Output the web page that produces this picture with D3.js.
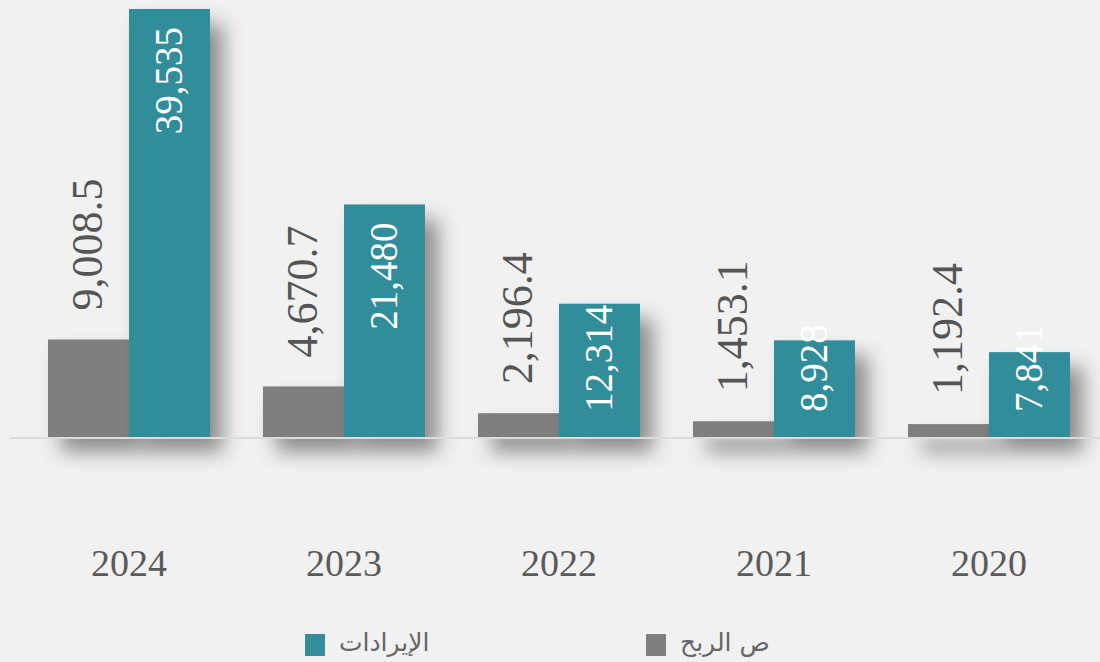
<!DOCTYPE html>
<html>
<head>
<meta charset="utf-8">
<script src="https://cdn.jsdelivr.net/npm/d3@7"></script>
<style>
  html, body { margin: 0; padding: 0; background: #f1f1f1; }
  svg { display: block; }
</style>
</head>
<body>
<svg width="1100" height="662"></svg>
<script>
// data (chronological), drawn right-to-left
var years = ["2020", "2021", "2022", "2023", "2024"];
var profit = [1192.4, 1453.1, 2196.4, 4670.7, 9008.5];
var revenue = [7841, 8928, 12314, 21480, 39535];
var seriesNames = ["ص الربح", "الإيرادات"];
var seriesColors = ["#7f7f7f", "#338d9b"];

var width = 1100, height = 662;
var baseline = 437;

var svg = d3.select("svg");

// blurred shadow behind the bars (big fixed region so short bars are not clipped)
var defs = svg.append("defs");
var f = defs.append("filter").attr("id", "shadow")
  .attr("filterUnits", "userSpaceOnUse")
  .attr("x", -300).attr("y", -100).attr("width", 1700).attr("height", 900);
f.append("feDropShadow").attr("dx", 13).attr("dy", 15).attr("stdDeviation", 10)
  .attr("flood-color", "#000").attr("flood-opacity", 0.42);

var x = d3.scaleBand()
  .domain(years.slice().reverse())   // 2024 on the left
  .range([21.5, 1096.5])
  .paddingInner(0.2465)
  .paddingOuter(0.1233);

var xs = d3.scaleBand().domain([0, 1]).range([0, x.bandwidth()]);

var y = d3.scaleLinear().domain([0, 39535]).range([baseline, 9]);

var groups = svg.append("g").selectAll("g")
  .data(years).enter().append("g")
  .attr("transform", function(d) { return "translate(" + x(d) + ",0)"; });

// bars
groups.append("rect")
  .attr("x", xs(0)).attr("width", xs.bandwidth())
  .attr("y", function(d, i) { return y(profit[i]); })
  .attr("height", function(d, i) { return baseline - y(profit[i]); })
  .attr("fill", seriesColors[0])
  .attr("filter", "url(#shadow)");

groups.append("rect")
  .attr("x", xs(1)).attr("width", xs.bandwidth())
  .attr("y", function(d, i) { return y(revenue[i]); })
  .attr("height", function(d, i) { return baseline - y(revenue[i]); })
  .attr("fill", seriesColors[1])
  .attr("filter", "url(#shadow)");

// baseline
svg.append("line")
  .attr("x1", 10).attr("x2", 1100)
  .attr("y1", baseline + 1).attr("y2", baseline + 1)
  .attr("stroke", "#dcdcdc").attr("stroke-width", 2);

var fmt1 = d3.format(",.1f"), fmt0 = d3.format(",.0f");

// profit labels above the grey bars
groups.append("text")
  .attr("transform", function(d, i) {
    return "translate(" + (xs(0) + xs.bandwidth() / 2) + "," + (y(profit[i]) - 29) + ") rotate(-90)";
  })
  .attr("dy", "0.3em")
  .style("font-family", "'Liberation Serif', serif")
  .style("font-size", "44px")
  .attr("fill", "#555")
  .text(function(d, i) { return fmt1(profit[i]); });

// revenue labels inside the teal bars
groups.append("text")
  .attr("dy", "0.32em")
  .style("font-family", "'Liberation Serif', serif")
  .style("font-size", "39px")
  .attr("fill", "#fff")
  .text(function(d, i) { return fmt0(revenue[i]); })
  .attr("transform", function(d, i) {
    var len = this.getComputedTextLength();
    var start = Math.min(y(revenue[i]) + 18 + len, baseline - 25);
    return "translate(" + (xs(1) + xs.bandwidth() / 2) + "," + start + ") rotate(-90)";
  });

// year labels
svg.append("g").selectAll("text")
  .data(years).enter().append("text")
  .attr("x", function(d) { return x(d) + x.bandwidth() / 2; })
  .attr("y", 576)
  .attr("text-anchor", "middle")
  .style("font-family", "'Liberation Serif', serif")
  .style("font-size", "38px")
  .attr("fill", "#5a5a5a")
  .text(function(d) { return d; });

// legend
var legend = [
  { name: seriesNames[1], color: seriesColors[1], x: 305 },
  { name: seriesNames[0], color: seriesColors[0], x: 646 }
];
var lg = svg.append("g").selectAll("g")
  .data(legend).enter().append("g")
  .attr("transform", function(d) { return "translate(" + d.x + ",634)"; });
lg.append("rect").attr("width", 20).attr("height", 22).attr("fill", function(d) { return d.color; });
lg.append("text")
  .attr("x", 34).attr("y", 17)
  .attr("direction", "ltr")
  .style("font-family", "'DejaVu Sans', sans-serif")
  .style("font-size", "25px")
  .attr("fill", "#666")
  .text(function(d) { return d.name; });
</script>
</body>
</html>
